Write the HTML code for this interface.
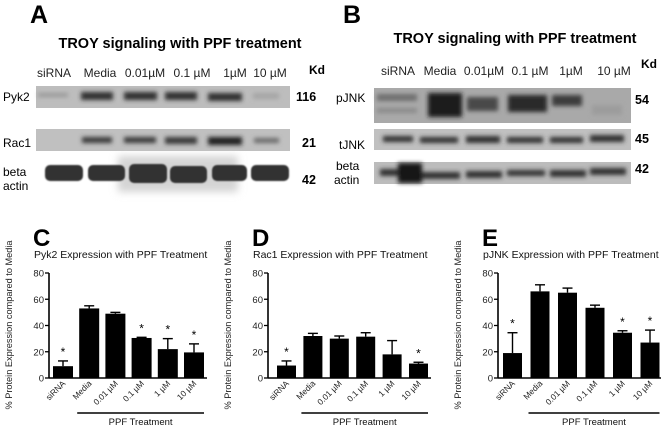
<!DOCTYPE html>
<html><head><meta charset="utf-8">
<style>
html,body{margin:0;padding:0;background:#fff;}
svg{display:block;font-family:"Liberation Sans",Arial,sans-serif;}
</style></head>
<body>
<svg id="fig" width="661" height="427" viewBox="0 0 661 427" xmlns="http://www.w3.org/2000/svg">
<defs>
<filter id="blur1" x="-20%" y="-80%" width="140%" height="260%"><feGaussianBlur stdDeviation="2"/></filter>
<filter id="blur2" x="-20%" y="-50%" width="140%" height="200%"><feGaussianBlur stdDeviation="4"/></filter>
<filter id="blur0" x="-10%" y="-30%" width="120%" height="160%"><feGaussianBlur stdDeviation="0.8"/></filter>
</defs>

<!-- Panel A -->
<g>
<text x="30" y="23" font-size="25" font-weight="bold">A</text>
<text x="180" y="48" font-size="14.5" font-weight="bold" text-anchor="middle">TROY signaling with PPF treatment</text>
<g font-size="12" fill="#222" text-anchor="middle">
<text x="54" y="77">siRNA</text><text x="100" y="77">Media</text><text x="145" y="77">0.01µM</text><text x="192" y="77">0.1 µM</text><text x="235" y="77">1µM</text><text x="270" y="77">10 µM</text>
</g>
<text x="309" y="74" font-size="12" font-weight="bold">Kd</text>
<text x="3" y="101" font-size="12">Pyk2</text>
<text x="3" y="147" font-size="12">Rac1</text>
<text x="3" y="176" font-size="12">beta</text>
<text x="3" y="190" font-size="12">actin</text>
<text x="296" y="101" font-size="12.5" font-weight="bold">116</text>
<text x="302" y="147" font-size="12.5" font-weight="bold">21</text>
<text x="302" y="184" font-size="12.5" font-weight="bold">42</text>
<rect x="36" y="86" width="254" height="22" fill="#bdbdbd"/>
<g fill="#333" filter="url(#blur1)">
<rect x="38" y="93" width="30" height="4" fill="#999"/>
<rect x="81" y="92" width="32" height="8"/>
<rect x="124" y="92" width="33" height="8"/>
<rect x="165" y="92" width="32" height="8"/>
<rect x="208" y="93" width="34" height="8"/>
<rect x="253" y="93" width="26" height="6" fill="#a5a5a5"/>
</g>
<rect x="36" y="129" width="254" height="22" fill="#c0c0c0"/>
<g fill="#3a3a3a" filter="url(#blur1)">
<rect x="82" y="137" width="30" height="6"/>
<rect x="124" y="137" width="32" height="6"/>
<rect x="165" y="137" width="32" height="7"/>
<rect x="208" y="137" width="34" height="8" fill="#222"/>
<rect x="254" y="138" width="25" height="5" fill="#6a6a6a"/>
</g>
<rect x="118" y="156" width="120" height="36" fill="#d4d4d4" filter="url(#blur2)"/>
<g fill="#333" filter="url(#blur0)">
<rect x="45" y="165" width="38" height="16" rx="5"/>
<rect x="88" y="165" width="37" height="16" rx="5"/>
<rect x="129" y="164" width="38" height="19" rx="5"/>
<rect x="170" y="166" width="37" height="17" rx="5"/>
<rect x="212" y="165" width="35" height="16" rx="5"/>
<rect x="251" y="165" width="38" height="16" rx="5"/>
</g>
</g>

<!-- Panel B -->
<g>
<text x="343" y="23" font-size="25" font-weight="bold">B</text>
<text x="515" y="43" font-size="14.5" font-weight="bold" text-anchor="middle">TROY signaling with PPF treatment</text>
<g font-size="12" fill="#222" text-anchor="middle">
<text x="398" y="75">siRNA</text><text x="440" y="75">Media</text><text x="484" y="75">0.01µM</text><text x="530" y="75">0.1 µM</text><text x="571" y="75">1µM</text><text x="614" y="75">10 µM</text>
</g>
<text x="641" y="68" font-size="12" font-weight="bold">Kd</text>
<text x="336" y="102" font-size="12">pJNK</text>
<text x="339" y="149" font-size="12">tJNK</text>
<text x="336" y="170" font-size="12">beta</text>
<text x="334" y="184" font-size="12">actin</text>
<text x="635" y="104" font-size="12.5" font-weight="bold">54</text>
<text x="635" y="143" font-size="12.5" font-weight="bold">45</text>
<text x="635" y="173" font-size="12.5" font-weight="bold">42</text>
<rect x="374" y="88" width="257" height="35" fill="#a9a9a9"/>
<g fill="#2e2e2e" filter="url(#blur1)">
<rect x="377" y="94" width="40" height="7" fill="#6f6f6f"/>
<rect x="377" y="108" width="40" height="5" fill="#8a8a8a"/>
<rect x="428" y="93" width="34" height="24" fill="#1c1c1c"/>
<rect x="467" y="97" width="31" height="14" fill="#4a4a4a"/>
<rect x="508" y="95" width="39" height="17" fill="#2a2a2a"/>
<rect x="552" y="95" width="30" height="11" fill="#3c3c3c"/>
<rect x="592" y="105" width="30" height="10" fill="#9c9c9c"/>
</g>
<rect x="374" y="129" width="257" height="21" fill="#c0c0c0"/>
<g fill="#333" filter="url(#blur1)">
<rect x="383" y="136" width="30" height="6"/>
<rect x="420" y="137" width="38" height="6"/>
<rect x="466" y="136" width="34" height="7"/>
<rect x="507" y="137" width="36" height="6"/>
<rect x="550" y="137" width="33" height="6"/>
<rect x="590" y="135" width="34" height="7"/>
</g>
<rect x="374" y="162" width="257" height="22" fill="#bcbcbc"/>
<g fill="#333" filter="url(#blur1)">
<rect x="380" y="169" width="30" height="7"/>
<rect x="398" y="163" width="24" height="20" fill="#151515"/>
<rect x="422" y="172" width="38" height="7"/>
<rect x="466" y="171" width="36" height="7"/>
<rect x="507" y="170" width="38" height="6"/>
<rect x="550" y="170" width="36" height="7"/>
<rect x="590" y="168" width="36" height="7"/>
</g>
</g>

<g id="charts"></g>
</svg>
<script>
const categories = ["siRNA","Media","0.01 µM","0.1 µM","1 µM","10 µM"];
const yTicks = [0,20,40,60,80];
const pyk2Values = [9,53,49,30.5,22,19.5];
const pyk2Errors = [4,2,1,0.5,8,6.5];
const pyk2Stars = [1,0,0,1,1,1];
const rac1Values = [9.5,32,30,31.5,18,11];
const rac1Errors = [3.5,2,2,3,10.5,1];
const rac1Stars = [1,0,0,0,0,1];
const pjnkValues = [19,66,65,53.5,34.5,27];
const pjnkErrors = [15.5,5,3.5,2,1.5,9.5];
const pjnkStars = [1,0,0,0,1,1];

const NS = "http://www.w3.org/2000/svg";
const root = document.getElementById("charts");
function mk(tag, attrs, parent){ const e=document.createElementNS(NS,tag); for(const k in attrs) e.setAttribute(k,attrs[k]); (parent||root).appendChild(e); return e; }

function chart(id, letter, title, values, errors, stars, axisX, bar0, step, bw){
  const g = mk("g",{});
  
  
  const y0=378, y80=273;
  const yScale = v => y0 - (v/80)*(y0-y80);
  const xScale = i => bar0 + i*step;
  const L = mk("text",{x:axisX-16,y:246,"font-size":24,"font-weight":"bold"},g); L.textContent=letter;
  
  
  const T = mk("text",{x:axisX-15,y:258,"font-size":10.5,fill:"#111"},g); T.textContent=title;
  
  
  const yt = mk("text",{x:0,y:0,"font-size":9.2,fill:"#222","text-anchor":"middle",transform:`translate(${axisX-37},325) rotate(-90)`},g);
  yt.textContent="% Protein Expression compared to Media";
  
  
  const endX = xScale(categories.length-1)+bw+3;
  const ya = mk("line",{x1:axisX,y1:y80,x2:axisX,y2:y0,stroke:"#000","stroke-width":1.6},g);
  
  
  const xa = mk("line",{x1:axisX,y1:y0,x2:endX,y2:y0,stroke:"#000","stroke-width":1.6},g);
  
  
  yTicks.forEach(t=>{
    const y=yScale(t);
    mk("line",{x1:axisX-4,y1:y,x2:axisX,y2:y,stroke:"#000","stroke-width":1.3},g);
    const tl = mk("text",{x:axisX-5,y:y+3.5,"font-size":9.5,"text-anchor":"end",fill:"#222"},g); tl.textContent=t;
    
    
  });
  values.forEach((v,i)=>{
    const x=xScale(i), cx=x+bw/2, top=yScale(v), et=yScale(v+errors[i]);
    const b = mk("rect",{x:x,y:top,width:bw,height:y0-top,fill:"#000"},g);
    
    
    mk("line",{x1:cx,y1:top,x2:cx,y2:et,stroke:"#000","stroke-width":1.4},g);
    mk("line",{x1:cx-5,y1:et,x2:cx+5,y2:et,stroke:"#000","stroke-width":1.4},g);
    if(stars[i]){
      const s = mk("text",{x:cx,y:et-5,"font-size":12,"text-anchor":"middle"},g); s.textContent="*";
      
      
    }
    const xl = mk("text",{x:0,y:0,"font-size":8.4,fill:"#222","text-anchor":"end",transform:`translate(${cx+3},${y0+6}) rotate(-45)`},g);
    xl.textContent=categories[i];
    
    
  });
  const bx1 = xScale(1)-2, bx2 = xScale(categories.length-1)+bw;
  const br = mk("line",{x1:bx1,y1:413,x2:bx2,y2:413,stroke:"#000","stroke-width":1.6},g);
  
  
  const pt = mk("text",{x:(bx1+bx2)/2,y:425,"font-size":9.5,"text-anchor":"middle",fill:"#111"},g); pt.textContent="PPF Treatment";
  
  
}
chart("c","C","Pyk2 Expression with PPF Treatment",pyk2Values,pyk2Errors,pyk2Stars,49,53,26.2,20);
chart("d","D","Rac1 Expression with PPF Treatment",rac1Values,rac1Errors,rac1Stars,268,277,26.4,19);
chart("e","E","pJNK Expression with PPF Treatment",pjnkValues,pjnkErrors,pjnkStars,498,503,27.5,19);
</script>
</body></html>
